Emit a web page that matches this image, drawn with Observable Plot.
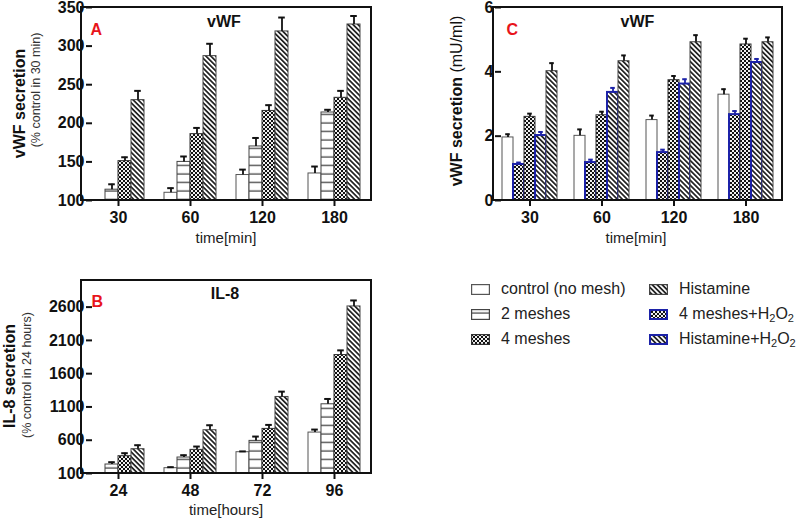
<!DOCTYPE html>
<html>
<head>
<meta charset="utf-8">
<script src="https://cdn.jsdelivr.net/npm/d3@7"></script>
<script src="https://cdn.jsdelivr.net/npm/@observablehq/plot@0.6"></script>
<style>
  html, body { margin: 0; padding: 0; background: #fff; }
  body { width: 800px; height: 521px; position: relative; overflow: hidden; font-family: "Liberation Sans", Arial, sans-serif; color: #111; }
  .panel { position: absolute; }
  .panel svg { overflow: visible; max-width: none !important; }
  .panel [aria-label$="axis tick"] { stroke-width: 2px; }
  #legend { position: absolute; left: 0; top: 0; }
  .lg { position: absolute; display: flex; align-items: center; font-size: 16px; color: #222; white-space: nowrap; height: 20px; }
  .lg svg { margin-right: 11px; }
  sub { font-size: 11px; vertical-align: -3px; line-height: 0; }
</style>
</head>
<body>
<svg width="0" height="0" style="position:absolute">
  <defs>
    <pattern id="pLines" width="8" height="8.5" patternUnits="userSpaceOnUse">
      <rect width="8" height="8.5" fill="#fff"/>
      <line x1="0" x2="8" y1="4" y2="4" stroke="#555" stroke-width="1.4"/>
    </pattern>
    <pattern id="pCheck" width="4" height="4" patternUnits="userSpaceOnUse">
      <rect width="4" height="4" fill="#f0f0f0"/>
      <rect width="2" height="2" fill="#111"/>
      <rect x="2" y="2" width="2" height="2" fill="#111"/>
    </pattern>
    <pattern id="pHatch" width="3.5" height="3.5" patternUnits="userSpaceOnUse" patternTransform="rotate(45)">
      <rect width="3.5" height="3.5" fill="#fff"/>
      <line x1="0" x2="3.5" y1="1.75" y2="1.75" stroke="#000" stroke-width="1.5"/>
    </pattern>
  </defs>
</svg>
<div id="pA" class="panel" style="left:0;top:0;width:390px;height:250px"></div>
<div id="pC" class="panel" style="left:400px;top:0;width:400px;height:250px"></div>
<div id="pB" class="panel" style="left:0;top:260px;width:390px;height:261px"></div>
<div id="legend"></div>
<script>
// ---------- data ----------
const timesA = ["30", "60", "120", "180"];
const seriesA = ["control (no mesh)", "2 meshes", "4 meshes", "Histamine"];
const aControl = [100, 110, 133, 135];
const aControlErr = [0, 6, 7, 9];
const a2Meshes = [114, 150, 170, 214];
const a2MeshesErr = [7, 7, 11, 3.5];
const a4Meshes = [151, 186, 216, 233];
const a4MeshesErr = [5, 8, 7.5, 9];
const aHistamine = [230, 287, 319, 328];
const aHistamineErr = [12, 16, 18, 11];
const yTicksA = [100, 150, 200, 250, 300, 350];

const timesB = ["24", "48", "72", "96"];
const seriesB = ["control (no mesh)", "2 meshes", "4 meshes", "Histamine"];
const bControl = [100, 180, 420, 715];
const bControlErr = [0, 15, 12, 45];
const b2Meshes = [235, 340, 590, 1140];
const b2MeshesErr = [35, 35, 65, 80];
const b4Meshes = [360, 455, 770, 1880];
const b4MeshesErr = [45, 50, 60, 70];
const bHistamine = [465, 750, 1250, 2610];
const bHistamineErr = [60, 75, 80, 90];
const yTicksB = [100, 600, 1100, 1600, 2100, 2600];

const timesC = ["30", "60", "120", "180"];
const seriesC = ["control (no mesh)", "4 meshes+H2O2", "4 meshes", "Histamine+H2O2", "Histamine"];
const cControl = [1.96, 2.01, 2.50, 3.29];
const cControlErr = [0.10, 0.20, 0.14, 0.17];
const c4MeshesH2O2 = [1.12, 1.18, 1.49, 2.67];
const c4MeshesH2O2Err = [0.06, 0.09, 0.09, 0.11];
const c4Meshes = [2.60, 2.65, 3.74, 4.85];
const c4MeshesErr = [0.10, 0.11, 0.13, 0.18];
const cHistamineH2O2 = [2.02, 3.36, 3.62, 4.29];
const cHistamineH2O2Err = [0.11, 0.14, 0.15, 0.11];
const cHistamine = [4.02, 4.33, 4.92, 4.92];
const cHistamineErr = [0.25, 0.18, 0.22, 0.15];
const yTicksC = [0, 2, 4, 6];

// ---------- styles per series ----------
const BLUE = "#1c22a8";
const seriesStyle = {
  "control (no mesh)": {fill: "#fff", stroke: "#555", sw: 1, err: "#111"},
  "2 meshes": {fill: "url(#pLines)", stroke: "#444", sw: 1, err: "#111"},
  "4 meshes": {fill: "url(#pCheck)", stroke: "#333", sw: 1, err: "#111"},
  "Histamine": {fill: "url(#pHatch)", stroke: "#444", sw: 1, err: "#111"},
  "4 meshes+H2O2": {fill: "url(#pCheck)", stroke: BLUE, sw: 2, err: BLUE},
  "Histamine+H2O2": {fill: "url(#pHatch)", stroke: BLUE, sw: 2, err: BLUE}
};

function tidy(times, series, means, errs) {
  const rows = [];
  series.forEach((s, i) => times.forEach((t, j) => rows.push({time: t, series: s, value: means[i][j], err: errs[i][j]})));
  return rows;
}

function panel(el, opt) {
  const {times, series, rows, yDomain, yTicks, width, height, m, padIn, padOut} = opt;
  const base = yDomain[0];
  const marks = [];
  series.forEach((s) => {
    const st = seriesStyle[s];
    marks.push(Plot.barY(rows, {
      filter: (d) => d.series === s && d.value > base,
      x: "series", y1: () => base, y2: "value",
      fill: st.fill, stroke: st.stroke, strokeWidth: st.sw
    }));
    marks.push(Plot.ruleX(rows, {
      filter: (d) => d.series === s && d.err > 0,
      x: "series", y1: "value", y2: (d) => d.value + d.err,
      stroke: st.err, strokeWidth: 1.8
    }));
    marks.push(Plot.tickY(rows, {
      filter: (d) => d.series === s && d.err > 0,
      x: "series", y: (d) => d.value + d.err,
      insetLeft: 3.2, insetRight: 3.2,
      stroke: st.err, strokeWidth: 2
    }));
  });
  const chart = Plot.plot({
    width, height,
    marginTop: m[0], marginRight: m[1], marginBottom: m[2], marginLeft: m[3],
    style: {fontFamily: "'Liberation Sans', Arial, sans-serif", fontSize: "16px", fontWeight: "bold", color: "#111", background: "transparent", overflow: "visible"},
    facet: {data: rows, x: "time"},
    fx: {domain: times, axis: "bottom", label: null, paddingInner: padIn, paddingOuter: padOut, tickSize: 6, tickPadding: 5},
    x: {domain: series, axis: null, padding: 0},
    y: {domain: yDomain, ticks: yTicks, tickFormat: "d", tickSize: 6, tickPadding: 2, label: null},
    marks
  });
  el.appendChild(chart);
  const svg = d3.select(el).select("svg");
  svg.append("rect")
    .attr("x", m[3]).attr("y", m[0])
    .attr("width", width - m[1] - m[3]).attr("height", height - m[0] - m[2])
    .attr("fill", "none").attr("stroke", "#111").attr("stroke-width", 2);
  return svg;
}

function addText(svg, x, y, txt, o = {}) {
  const t = svg.append("text")
    .attr("transform", `translate(${x},${y})` + (o.rotate ? ` rotate(${o.rotate})` : ""))
    .attr("text-anchor", o.anchor || "middle")
    .style("font-family", "'Liberation Sans', Arial, sans-serif")
    .style("font-size", (o.size || 16) + "px")
    .style("font-weight", o.weight || "normal")
    .attr("fill", o.color || "#111");
  if (Array.isArray(txt)) {
    txt.forEach(([s, w, sz]) => t.append("tspan").style("font-weight", w).style("font-size", sz + "px").text(s));
  } else t.text(txt);
  return t;
}

// ---------- Panel A ----------
const rowsA = tidy(timesA, seriesA,
  [aControl, a2Meshes, a4Meshes, aHistamine],
  [aControlErr, a2MeshesErr, a4MeshesErr, aHistamineErr]);
const svgA = panel(document.getElementById("pA"), {
  times: timesA, series: seriesA, rows: rowsA, yDomain: [100, 350], yTicks: yTicksA,
  width: 390, height: 250, m: [7, 19, 50, 81], padIn: 0.28, padOut: 0.135
});
addText(svgA, 224, 26.5, "vWF", {weight: "bold", size: 16});
addText(svgA, 90.5, 35, "A", {weight: "bold", size: 16, anchor: "start", color: "#e8141b"});
addText(svgA, 25, 103.5, "vWF secretion", {weight: "bold", size: 16, rotate: -90});
addText(svgA, 39.5, 90, "(% control in 30 min)", {size: 12.5, rotate: -90, color: "#333"});
addText(svgA, 226, 243, "time[min]", {size: 15, color: "#222"});

// ---------- Panel C ----------
const rowsC = tidy(timesC, seriesC,
  [cControl, c4MeshesH2O2, c4Meshes, cHistamineH2O2, cHistamine],
  [cControlErr, c4MeshesH2O2Err, c4MeshesErr, cHistamineH2O2Err, cHistamineErr]);
const svgC = panel(document.getElementById("pC"), {
  times: timesC, series: seriesC, rows: rowsC, yDomain: [0, 6], yTicks: yTicksC,
  width: 400, height: 250, m: [7, 18, 50, 93], padIn: 0.21, padOut: 0.105
});
addText(svgC, 237.5, 27, "vWF", {weight: "bold", size: 16});
addText(svgC, 106.5, 35, "C", {weight: "bold", size: 16, anchor: "start", color: "#e8141b"});
addText(svgC, 62, 101, [["vWF secretion", "bold", 16], [" (mU/ml)", "normal", 16]], {rotate: -90});
addText(svgC, 236, 243, "time[min]", {size: 15, color: "#222"});

// ---------- Panel B ----------
const rowsB = tidy(timesB, seriesB,
  [bControl, b2Meshes, b4Meshes, bHistamine],
  [bControlErr, b2MeshesErr, b4MeshesErr, bHistamineErr]);
const svgB = panel(document.getElementById("pB"), {
  times: timesB, series: seriesB, rows: rowsB, yDomain: [100, 3000], yTicks: yTicksB,
  width: 390, height: 261, m: [20, 19, 48, 81], padIn: 0.28, padOut: 0.135
});
addText(svgB, 225, 39, "IL-8", {weight: "bold", size: 16});
addText(svgB, 91.5, 47, "B", {weight: "bold", size: 16, anchor: "start", color: "#e8141b"});
addText(svgB, 15, 116, "IL-8 secretion", {weight: "bold", size: 16, rotate: -90});
addText(svgB, 31, 115, "(% control in 24 hours)", {size: 12.5, rotate: -90, color: "#333"});
addText(svgB, 226, 255, "time[hours]", {size: 15, color: "#222"});

// ---------- Legend ----------
const legendItems = [
  {key: "control (no mesh)", html: "control (no mesh)", x: 471, y: 289},
  {key: "2 meshes", html: "2 meshes", x: 471, y: 314},
  {key: "4 meshes", html: "4 meshes", x: 471, y: 339},
  {key: "Histamine", html: "Histamine", x: 649, y: 289},
  {key: "4 meshes+H2O2", html: "4 meshes+H<sub>2</sub>O<sub>2</sub>", x: 649, y: 314},
  {key: "Histamine+H2O2", html: "Histamine+H<sub>2</sub>O<sub>2</sub>", x: 649, y: 339}
];
const legend = document.getElementById("legend");
legendItems.forEach((it) => {
  const st = seriesStyle[it.key];
  const div = document.createElement("div");
  div.className = "lg";
  div.style.left = it.x + "px";
  div.style.top = (it.y - 10) + "px";
  const sw = st.sw > 1 ? 2 : 1.2;
  div.innerHTML = `<svg width="19" height="11"><rect x="${sw/2}" y="${sw/2}" width="${19 - sw}" height="${11 - sw}" fill="${st.fill}" stroke="${st.stroke}" stroke-width="${sw}"/></svg><span>${it.html}</span>`;
  legend.appendChild(div);
});
</script>
</body>
</html>
